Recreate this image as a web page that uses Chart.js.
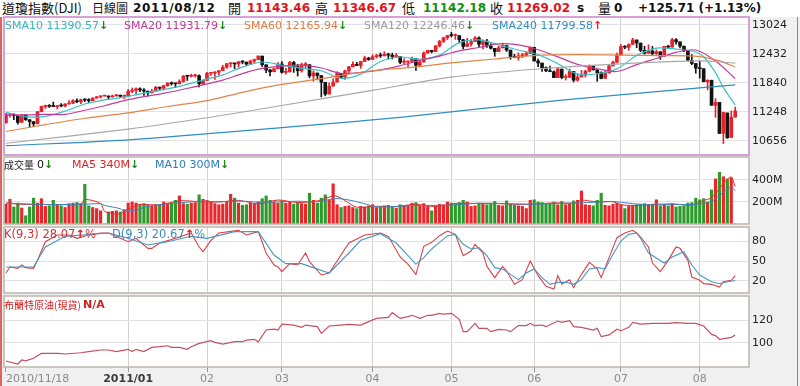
<!DOCTYPE html>
<html><head><meta charset="utf-8">
<script src="https://cdn.jsdelivr.net/npm/chart.js@4.4.1/dist/chart.umd.min.js"></script>
<style>
body{margin:0;width:800px;height:386px;overflow:hidden;background:#f0f0f0;position:relative;font-family:"DejaVu Sans",sans-serif}
#head{position:absolute;left:0;top:0;width:800px;height:17px;background:#fff}
#head span{position:absolute;top:0;line-height:16px;white-space:nowrap}
.cj{font-family:"Noto Sans CJK TC",sans-serif;font-size:13px;color:#111}
.num{font-weight:bold;font-size:12px;color:#111}
.red{color:#e0141e}.grn{color:#109010}
canvas{position:absolute;left:0}
.lg{position:absolute;left:0;width:749px;height:13px;font-size:11px;line-height:13px;white-space:nowrap}
.lg span{position:absolute;top:0}
.lg .cjs{font-family:"Noto Sans CJK TC",sans-serif;font-size:10px}
.dn{color:#1a8a1a;font-weight:bold}
.up{color:#e0202a;font-weight:bold}
.edge{position:absolute;top:17px;height:369px;background:#dc6464}
</style></head>
<body>
<div id="head">
  <span class="cj" style="left:2px">道瓊指數(DJI)</span>
  <span class="cj" style="left:92px;font-size:12px">日線圖</span>
  <span class="num" style="left:133px;letter-spacing:0.7px">2011/08/12</span>
  <span class="cj" style="left:228px">開</span><span class="num red" style="left:247px">11143.46</span>
  <span class="cj" style="left:315px">高</span><span class="num red" style="left:333px">11346.67</span>
  <span class="cj" style="left:402px">低</span><span class="num grn" style="left:423px">11142.18</span>
  <span class="cj" style="left:490px">收</span><span class="num red" style="left:507px">11269.02</span>
  <span class="num" style="left:577px">s</span>
  <span class="cj" style="left:598px">量</span><span class="num" style="left:614px">0</span>
  <span class="num" style="left:638px">+125.71 (+1.13%)</span>
</div>

<canvas id="cPrice" width="800" height="140" style="top:16px"></canvas>
<canvas id="cVol" width="800" height="69" style="top:156px"></canvas>
<canvas id="cKd" width="800" height="68" style="top:226px"></canvas>
<canvas id="cOil" width="800" height="91" style="top:295px"></canvas>

<div class="lg" style="top:19px">
  <span style="left:5px;color:#35b5c2">SMA10 11390.57<b class="dn">↓</b></span>
  <span style="left:124px;color:#c0369a">SMA20 11931.79<b class="dn">↓</b></span>
  <span style="left:244px;color:#e07a42">SMA60 12165.94<b class="dn">↓</b></span>
  <span style="left:364px;color:#9a9a9a">SMA120 12246.46<b class="dn">↓</b></span>
  <span style="left:492px;color:#2f8fc0">SMA240 11799.58<b class="up">↑</b></span>
</div>
<div class="lg" style="top:158px">
  <span class="cjs" style="left:4px;color:#222">成交量</span>
  <span style="left:37px;color:#111">0<b class="dn">↓</b></span>
  <span style="left:72px;color:#e01e1e">MA5 340M<b class="dn">↓</b></span>
  <span style="left:155px;color:#2a7fb8">MA10 300M<b class="dn">↓</b></span>
</div>
<div class="lg" style="top:228px;font-size:11.5px">
  <span style="left:4px;color:#d8303c">K(9,3) 28.07<b class="up">↑</b>%</span>
  <span style="left:112px;color:#3a8cc0">D(9,3) 20.67<b class="up">↑</b>%</span>
</div>
<div class="lg" style="top:298px">
  <span class="cjs" style="left:4px;color:#d02020">布蘭特原油(現貨)</span>
  <span style="left:83px;color:#d02020;font-weight:bold">N/A</span>
</div>
<div class="edge" style="left:0;width:2px"></div>
<div class="edge" style="left:797px;width:1px"></div>

<script>
// ── trading days (categories) ─────────────────────────────────
const tradingDays = [
  ['2010/11', [18,19,22,23,24,26,29,30]],
  ['2010/12', [1,2,3,6,7,8,9,10,13,14,15,16,17,20,21,22,23,24,27,28,29,30,31]],
  ['2011/01', [3,4,5,6,7,10,11,12,13,14,18,19,20,21,24,25,26,27,28,31]],
  ['2011/02', [1,2,3,4,7,8,9,10,11,14,15,16,17,18,22,23,24,25,28]],
  ['2011/03', [1,2,3,4,7,8,9,10,11,14,15,16,17,18,21,22,23,24,25,28,29,30,31]],
  ['2011/04', [1,4,5,6,7,8,11,12,13,14,15,18,19,20,21,25,26,27,28,29]],
  ['2011/05', [2,3,4,5,6,9,10,11,12,13,16,17,18,19,20,23,24,25,26,27,31]],
  ['2011/06', [1,2,3,6,7,8,9,10,13,14,15,16,17,20,21,22,23,24,27,28,29,30]],
  ['2011/07', [1,5,6,7,8,11,12,13,14,15,18,19,20,21,22,25,26,27,28,29]],
  ['2011/08', [1,2,3,4,5,8,9,10,11,12]],
];
const dates = tradingDays.flatMap(([m, days]) => days.map(d => m + '/' + String(d).padStart(2, '0')));

// ── DJI daily OHLC ────────────────────────────────────────────
const opens = [
  11025,11180,11203,11177,11037,11186,11091,11051,
  11007,11254,11360,11380,11363,11358,11371,11369,11411,11427,11475,11456,11498,11490,11478,11533,11558,11573,11572,11555,11575,11584,11569,
  11577,11670,11688,11722,11697,11673,11637,11672,11754,11731,11786,11836,11824,11823,11871,11980,11977,11985,11989,11824,
  11892,12039,12041,12061,12092,12161,12233,12238,12228,12272,12266,12226,12287,12317,12389,12211,12105,12069,12131,
  12227,12057,12066,12258,12171,12090,12213,12213,11983,12043,11992,11854,11614,11777,11859,12036,11957,12086,12170,12221,12197,12279,12349,
  12321,12376,12399,12393,12425,12408,12381,12380,12263,12269,12285,12340,12203,12267,12453,12505,12480,12595,12690,12763,
  12810,12807,12807,12723,12586,12637,12684,12759,12629,12695,12595,12547,12480,12561,12604,12511,12382,12356,12393,12403,12441,
  12569,12290,12246,12151,12090,12070,11949,12124,11952,11954,12075,11897,11962,12003,12081,12189,12108,12050,11935,12043,12188,12262,
  12415,12580,12567,12627,12718,12655,12505,12448,12491,12438,12477,12386,12586,12573,12724,12680,12592,12501,12302,12239,
  12144,12132,11866,11896,11383,11444,10810,11228,10729,11143.46,
];
const highs = [
  11220,11215,11210,11178,11200,11187,11092,11052,
  11260,11370,11390,11400,11450,11380,11420,11420,11480,11500,11515,11510,11520,11520,11540,11563,11577,11573,11573,11595,11610,11595,11592,
  11711,11736,11742,11742,11726,11673,11711,11770,11758,11794,11850,11861,11826,11906,11993,11984,12020,12020,12006,11904,
  12058,12050,12075,12093,12202,12240,12251,12244,12284,12294,12268,12308,12330,12391,12389,12212,12120,12146,12259,
  12275,12141,12282,12283,12223,12247,12258,12214,12087,12044,11993,11855,11843,11927,12068,12038,12104,12180,12270,12262,12284,12388,12363,
  12419,12428,12452,12478,12450,12450,12447,12381,12335,12287,12369,12342,12282,12474,12506,12509,12609,12710,12777,12811,
  12876,12843,12807,12733,12751,12727,12785,12783,12723,12732,12643,12548,12590,12654,12605,12512,12425,12454,12446,12477,12578,
  12569,12330,12247,12168,12184,12089,12146,12124,12013,12124,12076,12025,12097,12100,12210,12190,12108,12068,12087,12202,12285,12450,
  12623,12605,12640,12753,12719,12656,12590,12620,12586,12517,12478,12588,12610,12751,12749,12681,12593,12502,12422,12240,
  12284,12132,11904,11897,11520,11444,11244,11228,11270,11346.67,
];
const lows = [
  11025,11140,11090,11000,11037,11075,10930,10950,
  11007,11250,11320,11340,11355,11310,11350,11350,11410,11420,11440,11420,11460,11440,11478,11528,11530,11573,11510,11550,11575,11545,11522,
  11577,11640,11615,11664,11585,11578,11637,11672,11701,11700,11770,11796,11743,11822,11856,11891,11961,11961,11758,11807,
  11892,11994,11915,12002,12092,12140,12171,12134,12160,12230,12190,12226,12246,12317,12176,12050,11983,12069,12131,
  12041,12019,12066,12055,11982,12061,12152,11945,11874,11902,11555,11578,11614,11777,11859,11944,11915,12034,12170,12192,12138,12279,12302,
  12315,12349,12362,12393,12328,12330,12360,12232,12236,12175,12276,12094,12183,12267,12445,12454,12480,12577,12665,12727,
  12779,12731,12654,12535,12586,12593,12684,12580,12538,12565,12532,12384,12480,12550,12482,12325,12353,12306,12357,12403,12441,
  12286,12175,12075,12071,12069,11946,11949,11926,11900,11954,11862,11874,11962,11960,12066,12101,11875,11923,11934,12043,12188,12262,
  12415,12540,12508,12627,12560,12479,12427,12448,12400,12421,12322,12386,12548,12573,12634,12555,12481,12289,12215,12040,
  11939,11862,11700,11383,11139,10809,10604,10711,10729,11142.18,
];
const closes = [
  11181,11204,11178,11036,11187,11092,11052,11006,
  11255,11362,11382,11362,11359,11372,11370,11410,11428,11476,11457,11499,11491,11478,11533,11559,11573,11573,11555,11575,11585,11570,11578,
  11671,11692,11723,11698,11675,11637,11671,11755,11732,11787,11837,11825,11823,11872,11980,11977,11985,11990,11824,11892,
  12040,12042,12062,12092,12161,12234,12240,12230,12273,12268,12226,12288,12318,12391,12212,12106,12068,12130,12226,
  12058,12066,12258,12170,12090,12214,12214,11984,12044,11993,11855,11613,11775,11858,12036,11959,12086,12171,12221,12198,12280,12350,12320,
  12377,12400,12393,12426,12409,12380,12381,12263,12270,12285,12342,12202,12267,12453,12506,12480,12595,12691,12763,12811,
  12808,12807,12724,12585,12638,12684,12760,12630,12696,12596,12548,12479,12560,12606,12512,12381,12357,12395,12403,12442,12570,
  12290,12248,12151,12089,12070,11949,12125,11951,11953,12076,11898,11962,12004,12081,12191,12110,12050,11934,12043,12188,12262,12414,
  12582,12570,12626,12719,12657,12506,12447,12492,12437,12480,12385,12587,12572,12724,12681,12593,12502,12303,12240,12143,
  12133,11867,11897,11384,11445,10810,11240,10720,11144,11269.02,
];

// moving averages: [day index, value]
const sma10 = [[0,11244],[5,11150],[10,11160],[15,11265],[20,11412],[25,11495],[30,11550],[35,11632],[40,11704],[45,11792],[50,11900],[55,12006],[60,12164],[65,12268],[70,12202],[75,12139],[80,12089],[85,11933],[90,12020],[95,12280],[100,12370],[105,12323],[110,12409],[115,12664],[120,12721],[125,12618],[130,12513],[135,12420],[140,12234],[145,12022],[150,12028],[155,12128],[160,12400],[165,12552],[170,12531],[175,12473],[177,12376],[180,12051],[182,11746],[185,11391]];
const sma20 = [[0,11200],[5,11190],[10,11200],[15,11200],[20,11284],[25,11376],[30,11481],[35,11561],[40,11627],[45,11712],[50,11802],[55,11899],[60,12032],[65,12137],[70,12183],[75,12204],[80,12146],[85,12036],[90,12055],[95,12107],[100,12195],[105,12302],[110,12390],[115,12494],[120,12565],[125,12641],[130,12617],[135,12519],[140,12374],[145,12221],[150,12131],[155,12075],[160,12214],[165,12340],[170,12466],[175,12513],[180,12291],[185,11932]];
const sma60 = [[0,10850],[10,10990],[20,11120],[31,11230],[41,11360],[51,11480],[60,11650],[70,11810],[80,11930],[93,12090],[103,12160],[113,12250],[124,12330],[134,12400],[145,12420],[156,12410],[166,12400],[176,12380],[181,12290],[185,12166]];
const sma120 = [[0,10610],[31,10900],[51,11130],[70,11380],[93,11690],[113,11960],[134,12120],[156,12230],[176,12290],[185,12246]];
const sma240 = [[0,10560],[31,10680],[70,10930],[100,11140],[141,11490],[176,11740],[185,11800]];

// ── volume (M shares) ─────────────────────────────────────────
const volumes = [
  180,225,155,190,145,75,155,235,
  190,230,160,165,215,175,165,150,185,190,195,185,360,165,150,140,120,0,110,115,120,110,130,
  190,200,190,180,185,170,165,175,170,200,190,195,215,255,185,180,190,195,265,225,
  215,200,185,175,180,200,270,235,190,170,175,190,180,200,230,255,215,200,190,
  210,190,200,180,195,185,180,280,215,190,235,265,220,365,175,150,160,165,150,140,160,155,165,
  175,150,160,165,170,155,145,175,165,170,190,195,165,185,160,120,165,180,175,200,
  190,185,195,215,200,160,165,190,185,175,180,205,170,165,210,180,170,165,160,140,215,
  220,200,195,180,185,200,175,205,175,180,210,215,300,175,170,165,215,280,170,165,180,190,
  175,140,160,170,175,180,185,170,180,220,165,170,165,185,155,160,165,190,195,235,
  220,230,200,310,410,470,430,410,420,0,
];
const volMa5 = [[0,190],[4,179],[9,177],[14,176],[19,181],[20,223],[24,187],[25,115],[27,97],[29,91],[30,117],[32,150],[34,178],[39,173],[44,211],[49,203],[54,200],[59,215],[64,183],[69,218],[74,195],[79,210],[83,255],[84,252],[86,214],[89,153],[94,161],[99,159],[104,179],[109,159],[114,186],[119,187],[124,187],[129,179],[134,180],[139,192],[144,189],[146,216],[149,205],[151,201],[154,202],[156,176],[159,167],[164,178],[169,181],[174,173],[177,214],[179,239],[181,324],[183,406],[184,428],[185,340]];
const volMa10 = [[0,190],[9,178],[14,177],[19,179],[24,184],[25,169],[29,139],[30,116],[34,135],[35,153],[39,176],[44,192],[49,207],[54,202],[59,208],[64,199],[69,201],[74,207],[79,203],[84,231],[89,203],[94,157],[99,160],[104,169],[109,169],[114,173],[119,187],[124,187],[129,183],[134,180],[139,186],[144,191],[149,197],[154,204],[159,185],[164,173],[169,180],[174,177],[179,206],[182,289],[184,334],[185,300]];

// ── KD(9,3) ───────────────────────────────────────────────────
const kLine = [[0,32],[1,41],[3,39],[4,44],[5,40],[7,39],[8,51],[10,79],[13,89],[16,89],[18,84],[21,89],[24,92],[26,92],[31,79],[33,84],[36,69],[37,69],[39,77],[43,84],[47,92],[49,71],[50,64],[52,81],[54,92],[59,96],[61,89],[64,94],[66,62],[68,44],[69,41],[70,34],[72,46],[74,44],[76,62],[77,49],[80,29],[82,32],[87,77],[91,89],[95,92],[97,87],[100,56],[102,45],[104,30],[106,72],[108,78],[110,88],[112,95],[114,90],[116,58],[118,65],[119,75],[121,62],[122,42],[124,25],[126,42],[127,35],[129,15],[131,22],[133,50],[135,28],[137,12],[139,8],[140,28],[141,15],[143,22],[144,10],[146,30],[148,48],[150,38],[151,25],[153,55],[155,85],[157,92],[159,96],[160,92],[161,86],[163,71],[164,47],[166,34],[168,51],[170,71],[171,69],[173,51],[174,26],[176,21],[177,16],[179,15],[181,11],[182,19],[184,21],[185,28.07]];
const dLine = [[0,41],[7,41],[10,71],[15,87],[26,92],[31,84],[36,74],[41,79],[47,87],[51,84],[58,94],[64,94],[68,59],[71,46],[75,46],[82,32],[87,62],[90,81],[95,91],[99,77],[102,58],[104,45],[106,55],[108,68],[110,78],[112,88],[114,90],[116,75],[118,68],[120,70],[122,58],[124,40],[126,38],[128,30],[130,22],[132,32],[134,38],[136,25],[138,15],[140,18],[142,18],[144,15],[146,22],[148,38],[150,40],[152,38],[154,60],[156,80],[158,90],[160,92],[161,84],[163,62],[167,47],[169,56],[172,64],[174,44],[176,29],[179,19],[181,16],[183,19],[185,20.67]];

// ── Brent spot ────────────────────────────────────────────────
const brent = [[0,84.3],[3,81.7],[4,85.2],[5,84.5],[7,86.7],[9,91],[13,91],[15,90.4],[19,91.5],[21,92.5],[24,93.9],[26,93.9],[28,92.5],[31,94.5],[32,92.5],[33,94.5],[35,92.5],[37,96.2],[39,96.8],[41,97.6],[42,96.2],[44,96.2],[46,94.5],[47,96.8],[49,99.7],[52,102],[53,100.5],[55,99.1],[58,101.1],[60,101.1],[61,102.5],[63,103.2],[64,101],[66,111.3],[68,112],[69,111.3],[70,116.5],[73,115.6],[75,113.6],[76,115.6],[79,114.2],[80,108.4],[82,114.8],[84,115.4],[87,116.2],[90,115.6],[92,118.6],[94,121.4],[97,122.3],[98,126.4],[100,121.4],[102,122.9],[103,124.1],[105,121.4],[107,124.1],[108,124.1],[110,125.8],[111,125.2],[113,125.8],[115,120.6],[116,109.9],[117,109.9],[119,117.1],[120,112.8],[122,112.8],[123,109.9],[125,111.9],[127,111.3],[128,109.9],[130,115.1],[132,115.1],[133,117.1],[134,115.1],[136,115.6],[137,114.2],[140,119.1],[141,118],[143,119.4],[144,114.2],[146,113.6],[149,111.3],[150,112.8],[151,105.5],[153,107],[155,112],[156,110.7],[158,113.6],[159,118],[161,116.5],[164,117.1],[168,117.1],[170,117.7],[173,117.1],[175,117.1],[177,114.8],[179,107.5],[180,106.4],[181,103.2],[184,104.9],[185,106.9]];

// tick labels of the right axes
const priceTicks = [10656, 10952, 11248, 11544, 11840, 12136, 12432, 12728, 13024];
const volTicks = [200, 400];
const kdTicks = [20, 50, 80];
const brentTicks = [100, 120];

// ── helpers ───────────────────────────────────────────────────
const labels = dates.concat(['', '', '']);   // a few empty slots at the right
const UP = '#e8202a', DOWN = '#141414';
const VUP = '#e8262c', VDN = '#2e9a2e';
const isMonthStart = i => i > 0 && i < dates.length && dates[i].startsWith('2011') &&
  dates[i].slice(0, 7) !== dates[i - 1].slice(0, 7);

function tickText(i) {
  if (i === 0) return dates[0];
  if (!isMonthStart(i)) return '';
  const [y, m] = dates[i].split('/');
  return m === '01' ? y + '/' + m : m;
}

// sparse [index, value] pairs -> one slot per trading day
function onDays(pairs) {
  const a = dates.map(() => null);
  pairs.forEach(([i, v]) => { a[i] = v; });
  return a;
}

const panelFrame = {
  id: 'panelFrame',
  beforeDraw(chart) {
    const a = chart.chartArea, c = chart.ctx;
    c.save(); c.fillStyle = '#fff'; c.fillRect(a.left, a.top, a.width, a.height); c.restore();
  },
  afterDraw(chart, args, opts) {
    const a = chart.chartArea, c = chart.ctx;
    c.save(); c.strokeStyle = opts.color; c.lineWidth = opts.width;
    c.strokeRect(a.left, a.top, a.width, a.height); c.restore();
  },
};

function xScale(withLabels) {
  return {
    type: 'category', offset: true,
    grid: {
      offset: false, drawTicks: withLabels, tickLength: 5,
      color: c => isMonthStart(c.index) ? '#d2d2d2' : 'rgba(0,0,0,0)',
      tickColor: c => (c.index === 0 || isMonthStart(c.index)) ? '#9a9a9a' : 'rgba(0,0,0,0)',
    },
    border: { display: false },
    ticks: {
      display: withLabels, autoSkip: false, maxRotation: 0, minRotation: 0, align: 'inner', padding: 1,
      callback: (v, i) => tickText(i),
      color: c => tickText(c.index).startsWith('2011') ? '#3a3a3a' : '#8a8a8a',
      font: c => ({ family: 'DejaVu Sans', size: 11, weight: tickText(c.index).startsWith('2011') ? 'bold' : 'normal' }),
    },
    afterFit: s => { s.height = withLabels ? 19 : 0; s.paddingLeft = 0; s.paddingRight = 0; },
  };
}

function yScale(min, max, ticks, fmt) {
  return {
    position: 'right', min, max,
    afterBuildTicks: s => { s.ticks = ticks.map(v => ({ value: v })); },
    afterFit: s => { s.width = 51; s.paddingTop = 0; s.paddingBottom = 0; },
    grid: { color: '#e2e2e2', drawTicks: false },
    border: { display: false },
    ticks: { padding: 3, color: '#222', font: { family: 'DejaVu Sans', size: 11 }, callback: fmt || (v => String(v)) },
  };
}

const lineSet = (pairs, color, width, tension) => ({
  type: 'line', data: onDays(pairs), spanGaps: true,
  borderColor: color, borderWidth: width, pointRadius: 0, tension, order: 0,
});

function makeChart(id, datasets, y, frameColor, frameWidth, withLabels) {
  return new Chart(document.getElementById(id), {
    type: 'bar',
    data: { labels, datasets },
    plugins: [panelFrame],
    options: {
      responsive: false, animation: false, events: [],
      layout: { padding: { left: 4, right: 0, top: 1, bottom: withLabels ? 0 : 1 } },
      plugins: { legend: { display: false }, tooltip: { enabled: false }, panelFrame: { color: frameColor, width: frameWidth } },
      scales: { x: xScale(withLabels), y },
    },
  });
}

const candleColor = closes.map((c, i) => c >= opens[i] ? UP : DOWN);
const volColor = volumes.map((v, i) => (i === 0 || closes[i] >= closes[i - 1]) ? VUP : VDN);

// ── Price panel ───────────────────────────────────────────────
makeChart('cPrice', [
  { data: lows.map((l, i) => [l, highs[i]]), backgroundColor: candleColor, barThickness: 1, grouped: false, order: 3 },
  { data: opens.map((o, i) => [o, closes[i]]), backgroundColor: candleColor, barThickness: 3, grouped: false, order: 2, minBarLength: 1 },
  lineSet(sma240, '#2f8fc0', 1.2, 0.3),
  lineSet(sma120, '#a8a8a8', 1.2, 0.3),
  lineSet(sma60, '#e0844a', 1.2, 0.3),
  lineSet(sma20, '#c33c9c', 1.2, 0.3),
  lineSet(sma10, '#3cc0c8', 1.2, 0.3),
], yScale(10370, 13187, priceTicks), '#d8a2d8', 2, false);

// ── Volume panel ──────────────────────────────────────────────
makeChart('cVol', [
  { data: volumes, backgroundColor: volColor, barThickness: 2.5, grouped: false, order: 2 },
  lineSet(volMa10, '#3a86b8', 1, 0.3),
  lineSet(volMa5, '#e03030', 1, 0.3),
], yScale(0, 609, volTicks, v => v + 'M'), '#bdb5ad', 1.5, false);

// ── KD panel ──────────────────────────────────────────────────
makeChart('cKd', [
  lineSet(dLine, '#4a98c0', 1.1, 0),
  lineSet(kLine, '#d84048', 1.1, 0),
], yScale(2, 101, kdTicks), '#bdb5ad', 1.5, false);

// ── Brent panel ───────────────────────────────────────────────
makeChart('cOil', [
  lineSet(brent, '#c45060', 1.2, 0),
], yScale(79.1, 140.9, brentTicks), '#bdb5ad', 1.5, true);
</script>
</body></html>
